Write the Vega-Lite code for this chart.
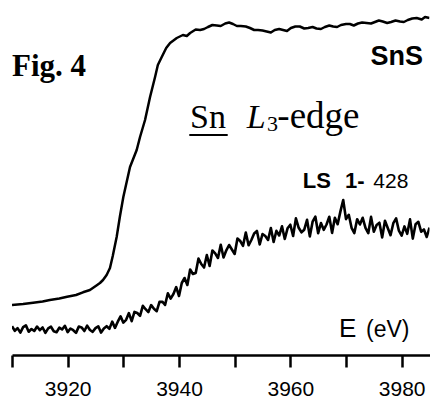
{
  "$schema": "https://vega.github.io/schema/vega-lite/v6.json",
  "width": 417.5,
  "height": 355,
  "autosize": "none",
  "padding": {"left": 12, "top": 0, "right": 2.5, "bottom": 44},
  "background": "white",
  "config": {"view": {"stroke": null}},
  "datasets": {
    "sns": [
      {"E":3910.0,"v":0.50},{"E":3912.0,"v":0.51},{"E":3913.8,"v":0.523},{"E":3915.5,"v":0.535},{"E":3916.8,"v":0.55},
      {"E":3918.5,"v":0.565},{"E":3919.9,"v":0.583},{"E":3921.5,"v":0.60},{"E":3922.75,"v":0.627},{"E":3924.0,"v":0.65},
      {"E":3925.3,"v":0.70},{"E":3925.8,"v":0.72},{"E":3926.35,"v":0.75},{"E":3927.0,"v":0.80},{"E":3927.6,"v":0.87},
      {"E":3928.1,"v":0.99},{"E":3928.8,"v":1.18},{"E":3929.4,"v":1.39},{"E":3930.0,"v":1.58},{"E":3931.2,"v":1.88},
      {"E":3932.4,"v":2.05},{"E":3933.0,"v":2.18},{"E":3933.9,"v":2.35},{"E":3934.8,"v":2.58},{"E":3935.7,"v":2.78},
      {"E":3936.2,"v":2.90},{"E":3936.9,"v":2.98},{"E":3937.7,"v":3.07},{"E":3938.4,"v":3.12},{"E":3939.6,"v":3.17},
      {"E":3940.7,"v":3.20},{"E":3941.4,"v":3.19},{"E":3942.0,"v":3.22},{"E":3943.0,"v":3.255},{"E":3943.8,"v":3.25},
      {"E":3944.5,"v":3.26},{"E":3945.2,"v":3.28},{"E":3946.0,"v":3.30},{"E":3946.8,"v":3.295},{"E":3947.5,"v":3.29},
      {"E":3948.3,"v":3.315},{"E":3949.0,"v":3.325},{"E":3949.7,"v":3.31},{"E":3950.4,"v":3.29},{"E":3951.1,"v":3.29},
      {"E":3952.0,"v":3.285},{"E":3952.75,"v":3.27},{"E":3953.5,"v":3.25},{"E":3954.2,"v":3.25},{"E":3955.0,"v":3.245},
      {"E":3955.75,"v":3.235},{"E":3956.5,"v":3.225},{"E":3957.2,"v":3.25},{"E":3958.0,"v":3.26},{"E":3958.7,"v":3.25},
      {"E":3959.4,"v":3.24},{"E":3960.1,"v":3.27},{"E":3960.9,"v":3.285},{"E":3961.7,"v":3.285},{"E":3962.5,"v":3.265},
      {"E":3963.2,"v":3.27},{"E":3964.0,"v":3.28},{"E":3964.7,"v":3.265},{"E":3965.5,"v":3.26},{"E":3966.2,"v":3.28},
      {"E":3967.0,"v":3.295},{"E":3967.7,"v":3.285},{"E":3968.4,"v":3.28},{"E":3969.1,"v":3.30},{"E":3970.0,"v":3.31},
      {"E":3970.7,"v":3.31},{"E":3971.4,"v":3.295},{"E":3972.15,"v":3.315},{"E":3972.9,"v":3.325},{"E":3973.7,"v":3.32},
      {"E":3974.5,"v":3.315},{"E":3975.2,"v":3.33},{"E":3975.9,"v":3.345},{"E":3976.6,"v":3.335},{"E":3977.4,"v":3.32},
      {"E":3978.1,"v":3.33},{"E":3978.9,"v":3.345},{"E":3979.7,"v":3.335},{"E":3980.4,"v":3.33},{"E":3981.1,"v":3.35},
      {"E":3981.9,"v":3.365},{"E":3982.7,"v":3.37},{"E":3983.6,"v":3.355},{"E":3984.2,"v":3.38},{"E":3985.0,"v":3.37}
    ],
    "ls": [
      {"E":3910.0,"v":0.287},{"E":3910.5,"v":0.242},{"E":3911.0,"v":0.269},{"E":3911.5,"v":0.224},{"E":3912.0,"v":0.278},
      {"E":3912.5,"v":0.296},{"E":3913.0,"v":0.233},{"E":3913.5,"v":0.26},{"E":3914.0,"v":0.24},{"E":3914.5,"v":0.285},
      {"E":3915.0,"v":0.249},{"E":3915.5,"v":0.275},{"E":3916.0,"v":0.221},{"E":3916.5,"v":0.266},{"E":3917.0,"v":0.283},
      {"E":3917.5,"v":0.238},{"E":3918.0,"v":0.228},{"E":3918.5,"v":0.273},{"E":3919.0,"v":0.255},{"E":3919.5,"v":0.292},
      {"E":3920.0,"v":0.229},{"E":3920.5,"v":0.265},{"E":3921.0,"v":0.248},{"E":3921.5,"v":0.221},{"E":3922.0,"v":0.284},
      {"E":3922.5,"v":0.276},{"E":3923.0,"v":0.24},{"E":3923.5,"v":0.294},{"E":3924.0,"v":0.25},{"E":3924.5,"v":0.232},
      {"E":3925.0,"v":0.269},{"E":3925.5,"v":0.287},{"E":3926.0,"v":0.224},{"E":3926.5,"v":0.265},{"E":3927.0,"v":0.288},
      {"E":3927.5,"v":0.262},{"E":3928.0,"v":0.334},{"E":3928.5,"v":0.271},{"E":3929.0,"v":0.333},{"E":3929.5,"v":0.387},
      {"E":3930.0,"v":0.324},{"E":3930.5,"v":0.352},{"E":3931.0,"v":0.419},{"E":3931.5,"v":0.338},{"E":3932.0,"v":0.431},
      {"E":3932.5,"v":0.42},{"E":3933.0,"v":0.391},{"E":3933.5,"v":0.492},{"E":3934.0,"v":0.458},{"E":3934.5,"v":0.429},
      {"E":3935.0,"v":0.499},{"E":3935.5,"v":0.462},{"E":3936.0,"v":0.438},{"E":3936.5,"v":0.531},{"E":3937.0,"v":0.533},
      {"E":3937.5,"v":0.501},{"E":3938.0,"v":0.617},{"E":3938.5,"v":0.564},{"E":3939.0,"v":0.61},{"E":3939.5,"v":0.679},
      {"E":3940.0,"v":0.59},{"E":3940.5,"v":0.72},{"E":3941.0,"v":0.77},{"E":3941.5,"v":0.70},{"E":3942.0,"v":0.855},
      {"E":3942.5,"v":0.81},{"E":3943.0,"v":0.82},{"E":3943.5,"v":0.965},{"E":3944.0,"v":0.91},{"E":3944.5,"v":0.875},
      {"E":3945.0,"v":1.00},{"E":3945.5,"v":0.89},{"E":3946.0,"v":1.045},{"E":3946.5,"v":1.017},{"E":3947.0,"v":0.97},
      {"E":3947.5,"v":1.102},{"E":3948.0,"v":0.975},{"E":3948.5,"v":1.047},{"E":3949.0,"v":1.10},{"E":3949.5,"v":1.055},
      {"E":3950.0,"v":1.01},{"E":3950.5,"v":1.165},{"E":3951.0,"v":1.14},{"E":3951.5,"v":1.092},{"E":3952.0,"v":1.225},
      {"E":3952.5,"v":1.097},{"E":3953.0,"v":1.15},{"E":3953.5,"v":1.215},{"E":3954.0,"v":1.24},{"E":3954.5,"v":1.105},
      {"E":3955.0,"v":1.21},{"E":3955.5,"v":1.19},{"E":3956.0,"v":1.15},{"E":3956.5,"v":1.27},{"E":3957.0,"v":1.13},
      {"E":3957.5,"v":1.242},{"E":3958.0,"v":1.195},{"E":3958.5,"v":1.287},{"E":3959.0,"v":1.16},{"E":3959.5,"v":1.267},
      {"E":3960.0,"v":1.303},{"E":3960.5,"v":1.19},{"E":3961.0,"v":1.366},{"E":3961.5,"v":1.272},{"E":3962.0,"v":1.227},
      {"E":3962.5,"v":1.253},{"E":3963.0,"v":1.352},{"E":3963.5,"v":1.186},{"E":3964.0,"v":1.333},{"E":3964.5,"v":1.383},
      {"E":3965.0,"v":1.218},{"E":3965.5,"v":1.319},{"E":3966.0,"v":1.252},{"E":3966.5,"v":1.305},{"E":3967.0,"v":1.382},
      {"E":3967.5,"v":1.221},{"E":3968.0,"v":1.373},{"E":3968.5,"v":1.308},{"E":3969.0,"v":1.436},{"E":3969.5,"v":1.55},
      {"E":3970.0,"v":1.359},{"E":3970.5,"v":1.402},{"E":3971.0,"v":1.272},{"E":3971.5,"v":1.219},{"E":3972.0,"v":1.358},
      {"E":3972.5,"v":1.305},{"E":3973.0,"v":1.372},{"E":3973.5,"v":1.271},{"E":3974.0,"v":1.218},{"E":3974.5,"v":1.381},
      {"E":3975.0,"v":1.232},{"E":3975.5,"v":1.301},{"E":3976.0,"v":1.323},{"E":3976.5,"v":1.176},{"E":3977.0,"v":1.342},
      {"E":3977.5,"v":1.27},{"E":3978.0,"v":1.198},{"E":3978.5,"v":1.318},{"E":3979.0,"v":1.366},{"E":3979.5,"v":1.243},
      {"E":3980.0,"v":1.193},{"E":3980.5,"v":1.286},{"E":3981.0,"v":1.212},{"E":3981.5,"v":1.356},{"E":3982.0,"v":1.164},
      {"E":3982.5,"v":1.308},{"E":3983.0,"v":1.332},{"E":3983.5,"v":1.233},{"E":3984.0,"v":1.255},{"E":3984.5,"v":1.18},
      {"E":3985.0,"v":1.274}
    ]
  },
  "encoding": {
    "x": {
      "field": "E", "type": "quantitative",
      "scale": {"domain": [3910, 3985], "nice": false, "zero": false},
      "axis": {
        "values": [3910, 3920, 3930, 3940, 3950, 3960, 3970, 3980],
        "title": null, "grid": false, "format": "d",
        "domainColor": "black", "domainWidth": 2.5,
        "tickColor": "black", "tickWidth": 2.5, "tickSize": 12,
        "labelExpr": "datum.value % 20 === 0 ? datum.label : ''",
        "labelFont": "Liberation Sans", "labelFontSize": 21, "labelColor": "black",
        "labelPadding": 11, "labelOverlap": false, "labelFlush": false,
        "encode": {"ticks": {"update": {"y2": {"signal": "datum.value % 20 === 0 ? 12 : 7"}}}}
      }
    },
    "y": {
      "field": "v", "type": "quantitative",
      "scale": {"domain": [0, 3.55], "nice": false, "zero": false},
      "axis": null
    }
  },
  "layer": [
    {"data": {"name": "sns"}, "mark": {"type": "line", "color": "black", "strokeWidth": 2.5, "strokeJoin": "round", "clip": true}},
    {"data": {"name": "ls"}, "mark": {"type": "line", "color": "black", "strokeWidth": 2.6, "strokeJoin": "round", "clip": true}},
    {"data": {"values": [{"E": 3910.0, "v": 2.79, "t": "Fig. 4"}]},
     "mark": {"type": "text", "align": "left", "baseline": "alphabetic", "font": "Liberation Serif", "fontWeight": "bold", "fontSize": 31, "color": "black"},
     "encoding": {"text": {"field": "t"}}},
    {"data": {"values": [{"E": 3983.83, "v": 2.90, "t": "SnS"}]},
     "mark": {"type": "text", "align": "right", "baseline": "alphabetic", "font": "Liberation Sans", "fontWeight": "bold", "fontSize": 27, "color": "black"},
     "encoding": {"text": {"field": "t"}}},
    {"data": {"values": [{"E": 3941.97, "v": 2.267, "t": "Sn"}]},
     "mark": {"type": "text", "align": "left", "baseline": "alphabetic", "font": "Liberation Serif", "fontSize": 34, "color": "black"},
     "encoding": {"text": {"field": "t"}}},
    {"data": {"values": [{"E": 3941.85, "E2": 3948.75, "v": 2.20}]},
     "mark": {"type": "rule", "color": "black", "strokeWidth": 1.8},
     "encoding": {"x2": {"field": "E2"}}},
    {"data": {"values": [{"E": 3952.16, "v": 2.267, "t": "L"}]},
     "mark": {"type": "text", "align": "left", "baseline": "alphabetic", "font": "Liberation Serif", "fontStyle": "italic", "fontSize": 34, "color": "black"},
     "encoding": {"text": {"field": "t"}}},
    {"data": {"values": [{"E": 3955.8, "v": 2.24, "t": "3"}]},
     "mark": {"type": "text", "align": "left", "baseline": "alphabetic", "font": "Liberation Serif", "fontSize": 22, "color": "black"},
     "encoding": {"text": {"field": "t"}}},
    {"data": {"values": [{"E": 3957.66, "v": 2.267, "t": "-edge"}]},
     "mark": {"type": "text", "align": "left", "baseline": "alphabetic", "font": "Liberation Serif", "fontSize": 37, "color": "black"},
     "encoding": {"text": {"field": "t"}}},
    {"data": {"values": [{"E": 3962.22, "v": 1.673, "t": "LS"}, {"E": 3969.82, "v": 1.673, "t": "1-"}]},
     "mark": {"type": "text", "align": "left", "baseline": "alphabetic", "font": "Liberation Sans", "fontWeight": "bold", "fontSize": 22, "color": "black"},
     "encoding": {"text": {"field": "t"}}},
    {"data": {"values": [{"E": 3974.9, "v": 1.673, "t": "428"}]},
     "mark": {"type": "text", "align": "left", "baseline": "alphabetic", "font": "Liberation Sans", "fontSize": 21, "color": "black"},
     "encoding": {"text": {"field": "t"}}},
    {"data": {"values": [{"E": 3968.74, "v": 0.183, "t": "E"}]},
     "mark": {"type": "text", "align": "left", "baseline": "alphabetic", "font": "Liberation Sans", "fontSize": 26, "color": "black"},
     "encoding": {"text": {"field": "t"}}},
    {"data": {"values": [{"E": 3973.6, "v": 0.183, "t": "(eV)"}]},
     "mark": {"type": "text", "align": "left", "baseline": "alphabetic", "font": "Liberation Sans", "fontSize": 23, "color": "black"},
     "encoding": {"text": {"field": "t"}}}
  ]
}
